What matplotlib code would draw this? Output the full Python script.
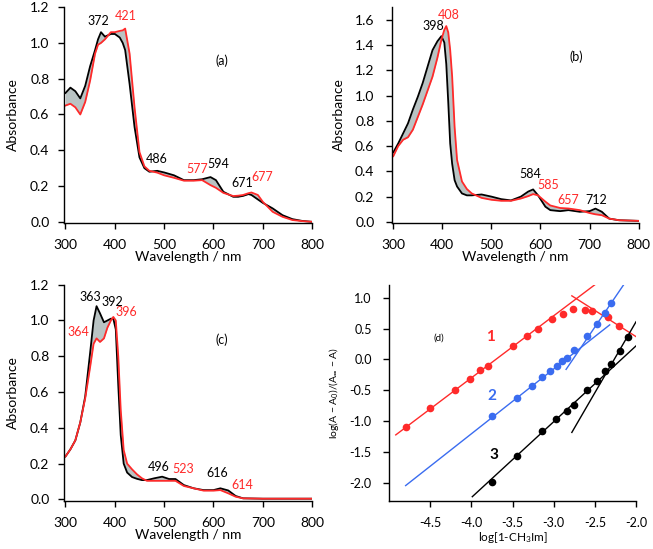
import matplotlib
matplotlib.use('Agg')
import matplotlib.pyplot as plt

plt.rcParams['font.family'] = ['Lato', 'DejaVu Sans']
plt.rcParams['mathtext.fontset'] = 'custom'
plt.rcParams['mathtext.rm'] = 'Lato'
plt.rcParams['mathtext.it'] = 'Lato:italic'

# (a) спектры
wl_a = [300, 310, 320, 330, 340, 350, 360, 366, 372, 380, 392, 400, 410, 416, 421, 430, 440, 450,
        460, 470, 486, 500, 520, 540, 560, 577, 594, 605, 620, 640, 650, 660, 671, 677, 690, 700,
        720, 740, 760, 780, 800]
black_a = [0.72, 0.75, 0.73, 0.69, 0.76, 0.87, 0.96, 1.02, 1.06, 1.035, 1.05, 1.05, 1.03, 1.0, 0.96,
           0.77, 0.53, 0.36, 0.30, 0.28, 0.285, 0.276, 0.26, 0.233, 0.233, 0.238, 0.25, 0.233, 0.168,
           0.14, 0.14, 0.145, 0.155, 0.15, 0.125, 0.106, 0.075, 0.037, 0.015, 0.005, 0.0]
red_a = [0.65, 0.66, 0.64, 0.60, 0.67, 0.79, 0.94, 0.99, 1.0, 1.02, 1.06, 1.06, 1.067, 1.07, 1.08,
         0.94, 0.64, 0.39, 0.31, 0.285, 0.275, 0.26, 0.246, 0.23, 0.23, 0.233, 0.205, 0.19, 0.162,
         0.144, 0.146, 0.15, 0.16, 0.164, 0.15, 0.112, 0.056, 0.028, 0.01, 0.004, 0.0]

# (b) спектры
wl_b = [300, 310, 320, 330, 340, 350, 360, 370, 380, 390, 398, 404, 408, 412, 416, 420, 425, 430,
        440, 450, 460, 480, 500, 520, 540, 560, 575, 585, 595, 610, 620, 640, 657, 680, 700, 712,
        725, 740, 760, 800]
black_b = [0.55, 0.62, 0.70, 0.78, 0.89, 0.99, 1.10, 1.23, 1.36, 1.43, 1.47, 1.42, 1.25, 0.95, 0.62,
           0.46, 0.33, 0.28, 0.225, 0.21, 0.21, 0.217, 0.20, 0.18, 0.17, 0.20, 0.24, 0.257, 0.21,
           0.12, 0.093, 0.085, 0.093, 0.08, 0.085, 0.105, 0.08, 0.026, 0.013, 0.008]
red_b = [0.52, 0.60, 0.65, 0.67, 0.73, 0.83, 0.93, 1.04, 1.15, 1.30, 1.44, 1.52, 1.55, 1.50, 1.36,
         1.15, 0.75, 0.49, 0.32, 0.26, 0.225, 0.19, 0.175, 0.167, 0.167, 0.185, 0.204, 0.22, 0.21,
         0.16, 0.13, 0.11, 0.106, 0.093, 0.07, 0.06, 0.053, 0.026, 0.013, 0.008]

# (c) спектры
wl_c = [300, 310, 320, 330, 340, 350, 357, 363, 370, 378, 385, 392, 397, 402, 407, 412, 418, 425,
        435, 445, 455, 465, 480, 496, 510, 523, 540, 560, 580, 600, 614, 630, 645, 660, 700, 800]
black_c = [0.24, 0.28, 0.33, 0.43, 0.575, 0.82, 1.0, 1.08, 1.04, 0.99, 1.0, 1.01, 1.01, 0.95, 0.64,
           0.36, 0.20, 0.15, 0.125, 0.115, 0.108, 0.108, 0.118, 0.127, 0.114, 0.114, 0.08, 0.062,
           0.052, 0.052, 0.062, 0.05, 0.019, 0.006, 0.004, 0.004]
red_c = [0.24, 0.28, 0.33, 0.43, 0.565, 0.74, 0.87, 0.90, 0.88, 0.90, 0.96, 1.0, 1.02, 1.0, 0.80,
         0.50, 0.276, 0.20, 0.168, 0.14, 0.118, 0.104, 0.104, 0.104, 0.104, 0.104, 0.075, 0.062,
         0.049, 0.049, 0.052, 0.034, 0.015, 0.006, 0.004, 0.004]

# (d) логарифмические графики
x1 = [-4.80, -4.50, -4.20, -4.02, -3.90, -3.80, -3.50, -3.32, -3.19, -3.02, -2.89, -2.76, -2.62,
      -2.53, -2.34, -2.21]
y1 = [-1.10, -0.78, -0.50, -0.31, -0.17, -0.10, 0.22, 0.38, 0.50, 0.65, 0.74, 0.81, 0.80, 0.79,
      0.69, 0.54]
x2 = [-3.75, -3.45, -3.27, -3.14, -3.04, -2.96, -2.90, -2.84, -2.75, -2.59, -2.47, -2.38, -2.30]
y2 = [-0.92, -0.62, -0.43, -0.29, -0.18, -0.10, -0.03, 0.03, 0.15, 0.38, 0.57, 0.75, 0.91]
x3 = [-3.75, -3.45, -3.14, -2.97, -2.84, -2.75, -2.59, -2.47, -2.38, -2.31, -2.19, -2.10]
y3 = [-1.99, -1.56, -1.16, -0.97, -0.84, -0.73, -0.50, -0.34, -0.19, -0.08, 0.14, 0.37]
# прямые (концы)
fit1a_x, fit1a_y = [-4.92, -2.50], [-1.22, 1.21]
fit1b_x, fit1b_y = [-2.78, -2.0], [1.03, 0.37]
fit2a_x, fit2a_y = [-4.80, -2.32], [-2.04, 0.56]
fit2b_x, fit2b_y = [-2.85, -2.15], [-0.16, 1.21]
fit3a_x, fit3a_y = [-3.99, -2.0], [-2.22, 0.22]
fit3b_x, fit3b_y = [-2.78, -2.0], [-1.18, 0.61]

RED = '#ff2a2a'
BLUE = '#3a6cf0'
GRAY = '#b9c3c3'

fig = plt.figure(figsize=(6.53, 5.49), dpi=100)


def style(ax, fs=10, xpad=7, ypad=6):
    for s in ['top', 'right']:
        ax.spines[s].set_visible(False)
    ax.tick_params(direction='out', length=4.5, width=1, labelsize=fs)
    ax.tick_params(axis='x', pad=xpad)
    ax.tick_params(axis='y', pad=ypad)
    ax.spines['left'].set_linewidth(1)
    ax.spines['bottom'].set_linewidth(1)


def spectrum(ax, wl, black, red, ylim, yticks, labels, tag, ypad=6, ylabelpad=8):
    ax.fill_between(wl, black, red, color=GRAY, lw=0)
    ax.plot(wl, black, color='black', lw=1.3)
    ax.plot(wl, red, color=RED, lw=1.3)
    ax.set_xlim(297, 800)
    ax.set_ylim(*ylim)
    ax.set_xticks([300, 400, 500, 600, 700, 800])
    ax.set_yticks(yticks)
    ax.set_yticklabels(['%.1f' % t for t in yticks])
    ax.set_xlabel('Wavelength / nm', fontsize=10, labelpad=0)
    ax.set_ylabel('Absorbance', fontsize=10, labelpad=ylabelpad)
    for txt, x, y, c in labels:
        ax.text(x, y, txt, color=c, fontsize=9, ha='center', va='center')
    ax.text(tag[1], tag[2], tag[0], fontsize=9, ha='center', va='center')
    style(ax, ypad=ypad)


ax_a = fig.add_axes([0.098, 0.594, 0.380, 0.393])
spectrum(ax_a, wl_a, black_a, red_a, (-0.006, 1.2), [0, 0.2, 0.4, 0.6, 0.8, 1.0, 1.2],
         [('372', 367, 1.125, 'black'), ('421', 422, 1.15, RED), ('486', 486, 0.353, 'black'),
          ('577', 567, 0.297, RED), ('594', 610, 0.323, 'black'), ('671', 658, 0.215, 'black'),
          ('677', 698, 0.25, RED)], ('(a)', 617, 0.90))

ax_b = fig.add_axes([0.600, 0.594, 0.378, 0.393])
spectrum(ax_b, wl_b, black_b, red_b, (-0.008, 1.7), [0, 0.2, 0.4, 0.6, 0.8, 1.0, 1.2, 1.4, 1.6],
         [('398', 381, 1.547, 'black'), ('408', 414, 1.64, RED), ('584', 579, 0.383, 'black'),
          ('585', 616, 0.29, RED), ('657', 657, 0.17, RED), ('712', 714, 0.17, 'black')],
         ('(b)', 672, 1.31), ypad=8, ylabelpad=7)

ax_c = fig.add_axes([0.098, 0.0874, 0.380, 0.394])
spectrum(ax_c, wl_c, black_c, red_c, (-0.009, 1.2), [0, 0.2, 0.4, 0.6, 0.8, 1.0, 1.2],
         [('363', 350, 1.13, 'black'), ('392', 395, 1.106, 'black'), ('396', 423, 1.05, RED),
          ('364', 326, 0.933, RED), ('496', 490, 0.183, 'black'), ('523', 538, 0.168, RED),
          ('616', 607, 0.146, 'black'), ('614', 659, 0.08, RED)], ('(c)', 617, 0.89))

ax_d = fig.add_axes([0.596, 0.0874, 0.378, 0.394])
ax_d.plot(fit1a_x, fit1a_y, color=RED, lw=1)
ax_d.plot(fit1b_x, fit1b_y, color=RED, lw=1)
ax_d.plot(fit2a_x, fit2a_y, color=BLUE, lw=1)
ax_d.plot(fit2b_x, fit2b_y, color=BLUE, lw=1)
ax_d.plot(fit3a_x, fit3a_y, color='black', lw=1)
ax_d.plot(fit3b_x, fit3b_y, color='black', lw=1)
ax_d.plot(x1, y1, 'o', color=RED, ms=5.5, mec='none')
ax_d.plot(x2, y2, 'o', color=BLUE, ms=5.5, mec='none')
ax_d.plot(x3, y3, 'o', color='black', ms=5.5, mec='none')
ax_d.text(-3.77, 0.37, '1', color=RED, fontsize=11, fontweight='bold', ha='center', va='center')
ax_d.text(-3.75, -0.59, '2', color=BLUE, fontsize=11, fontweight='bold', ha='center', va='center')
ax_d.text(-3.73, -1.54, '3', color='black', fontsize=11, fontweight='bold', ha='center', va='center')
ax_d.text(-4.40, 0.34, '(d)', fontsize=7, ha='center', va='center')
ax_d.set_xlim(-5.0, -2.0)
ax_d.set_ylim(-2.29, 1.21)
ax_d.set_xticks([-4.5, -4.0, -3.5, -3.0, -2.5, -2.0])
ax_d.set_xticklabels(['-4.5', '-4.0', '-3.5', '-3.0', '-2.5', '-2.0'])
ax_d.set_yticks([-2.0, -1.5, -1.0, -0.5, 0.0, 0.5, 1.0])
ax_d.set_yticklabels(['-2.0', '-1.5', '-1.0', '-0.5', '0.0', '0.5', '1.0'])
ax_d.set_xlabel('log[1-CH$_3$Im]', fontsize=8.5, labelpad=1)
ax_d.set_ylabel('log(A − A$_0$)/(A$_\\infty$ − A)', fontsize=7.5, labelpad=6)
style(ax_d, fs=9, xpad=7, ypad=8)

fig.savefig('out.png', dpi=100)
